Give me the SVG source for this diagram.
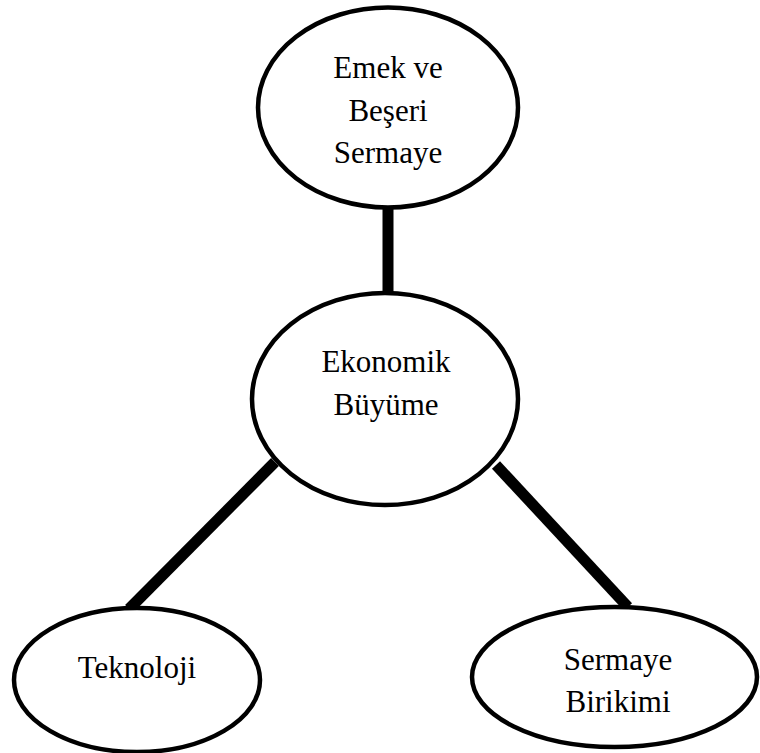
<svg xmlns="http://www.w3.org/2000/svg" width="760" height="753" viewBox="0 0 760 753">
<style>
.node ellipse{fill:#fff;stroke:#000;stroke-width:4.5}
.node text{font-family:"Liberation Serif","Times New Roman",serif;font-size:31px;fill:#000;text-anchor:middle}
.conn line{stroke:#000;stroke-width:11}
</style>
<rect width="760" height="753" fill="#fff"/>
<g id="connectors" class="conn">
<line x1="388" y1="206" x2="388" y2="294"/>
<line x1="275" y1="462" x2="129" y2="609"/>
<line x1="496" y1="465" x2="628" y2="607"/>
</g>
<g id="emek" class="node">
<ellipse cx="388" cy="107.5" rx="130" ry="100"/>
<text x="388" y="78">Emek ve</text>
<text x="388" y="121">Beşeri</text>
<text x="388" y="163">Sermaye</text>
</g>
<g id="ekonomik" class="node">
<ellipse cx="385" cy="399" rx="133" ry="106"/>
<text x="386" y="372">Ekonomik</text>
<text x="386" y="415">Büyüme</text>
</g>
<g id="teknoloji" class="node">
<ellipse cx="137" cy="680" rx="123" ry="72"/>
<text x="137" y="678">Teknoloji</text>
</g>
<g id="sermaye" class="node">
<ellipse cx="614.5" cy="677" rx="142.5" ry="70"/>
<text x="618" y="670">Sermaye</text>
<text x="618" y="712">Birikimi</text>
</g>
</svg>
